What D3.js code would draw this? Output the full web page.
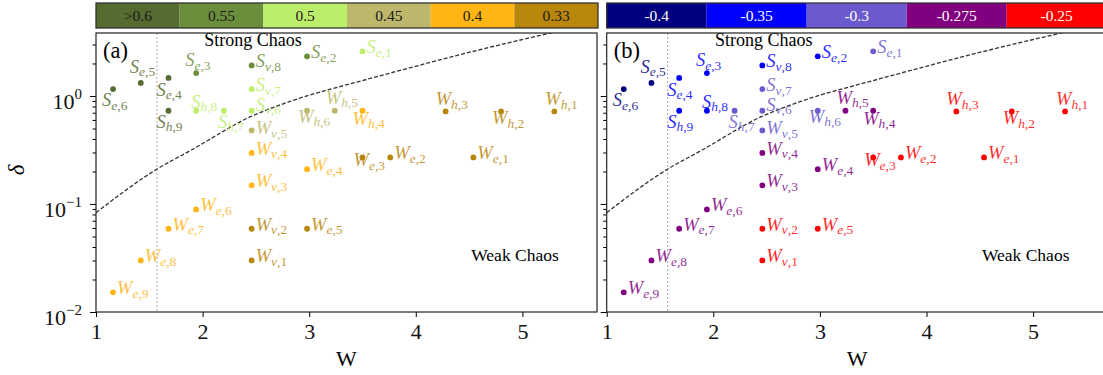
<!DOCTYPE html>
<html>
<head>
<meta charset="utf-8">
<script src="https://cdn.jsdelivr.net/npm/d3@7"></script>
<style>
    body { margin: 0; background: #fff; }
    svg { display: block; font-family: "Liberation Serif", "DejaVu Serif", serif; }
</style>
</head>
<body>
<svg id="chart" width="1103" height="375"></svg>
<script>
// point names, W and delta
const names = ["Se,1", "Se,2", "Se,3", "Se,4", "Se,5", "Se,6",
    "Sv,8", "Sv,7", "Sv,6", "Sh,9", "Sh,8", "Sh,7",
    "Wv,5", "Wv,4", "Wv,3", "Wv,2", "Wv,1",
    "Wh,6", "Wh,5", "Wh,4", "Wh,3", "Wh,2", "Wh,1",
    "We,1", "We,2", "We,3", "We,4", "We,5", "We,6", "We,7", "We,8", "We,9"];
const wValues = [3.5, 2.98, 1.94, 1.68, 1.42, 1.16,
    2.46, 2.46, 2.46, 1.68, 1.94, 2.2,
    2.46, 2.46, 2.46, 2.46, 2.46,
    2.98, 3.24, 3.5, 4.28, 4.8, 5.3,
    4.54, 3.76, 3.5, 2.98, 2.98, 1.94, 1.68, 1.42, 1.16];
const deltaValues = [2.59, 2.33, 1.63, 1.47, 1.32, 1.16,
    1.92, 1.16, 0.73, 0.73, 0.73, 0.73,
    0.48, 0.297, 0.149, 0.059, 0.030,
    0.73, 0.73, 0.73, 0.72, 0.72, 0.72,
    0.27, 0.27, 0.27, 0.21, 0.059, 0.089, 0.059, 0.030, 0.0152];
// colour class of each point in panel (a) and (b)
const groupA = ["0.5", "0.55", "0.55", ">0.6", ">0.6", ">0.6",
    "0.55", "0.5", "0.5", ">0.6", "0.5", "0.5",
    "0.45", "0.4", "0.4", "0.33", "0.33",
    "0.45", "0.45", "0.4", "0.33", "0.33", "0.33",
    "0.33", "0.33", "0.33", "0.4", "0.33", "0.4", "0.4", "0.4", "0.4"];
const groupB = ["-0.3", "-0.35", "-0.35", "-0.35", "-0.4", "-0.4",
    "-0.35", "-0.3", "-0.3", "-0.35", "-0.35", "-0.3",
    "-0.3", "-0.275", "-0.275", "-0.25", "-0.25",
    "-0.3", "-0.275", "-0.275", "-0.25", "-0.25", "-0.25",
    "-0.25", "-0.25", "-0.25", "-0.275", "-0.25", "-0.275", "-0.275", "-0.275", "-0.275"];

const legendA = [">0.6", "0.55", "0.5", "0.45", "0.4", "0.33"];
const coloursA = ["#556b2f", "#6b8e3a", "#bcee6a", "#bdb76b", "#ffb514", "#b8860b"];
const legendB = ["-0.4", "-0.35", "-0.3", "-0.275", "-0.25"];
const coloursB = ["#000080", "#0000ff", "#6a5acd", "#800080", "#ff0000"];

// dashed boundary
const boundaryW = [1, 1.57, 1.88, 2.46, 2.82, 3.5, 3.76, 4.6, 5.3];
const boundaryDelta = [0.083, 0.21, 0.31, 0.65, 0.89, 1.39, 1.63, 2.68, 3.9];
const wCritical = 1.572;

const xTicks = [1, 2, 3, 4, 5];
const yMajor = [0.01, 0.1, 1];
const yExponents = ["\u22122", "\u22121", "0"];

// label offsets (dx, baseline dy); labels not listed sit to the right of the dot
const labelOffset = {
    "Se,6": [-11, 17], "Se,5": [-11, -10], "Se,4": [-12, 18], "Sh,9": [-12, 17],
    "Se,3": [-11, -7], "Sh,8": [-5, -3], "Sh,7": [-6, 17],
    "Wh,6": [-9, 12], "Wh,5": [-9, -7], "Wh,4": [-10, 14],
    "Wh,3": [-10, -6], "Wh,2": [-9, 13], "Wh,1": [-9, -6], "We,3": [-9, 9],
    "Sv,6": [4, 0], "Wv,5": [4, 4]
};

let plotTop = 33, plotBottom = 312, plotWidth = 501;
let svg = d3.select("#chart");

let points = names.map((n, i) => ({
    name: n, w: wValues[i], delta: deltaValues[i], a: groupA[i], b: groupB[i]
}));

let y = d3.scaleLog().domain([0.01, 3.83]).range([plotBottom, plotTop]);

let minor = [];
[-2, -1, 0].forEach(k => {
    for (let m = 2; m <= 9; m++) {
        let v = m * Math.pow(10, k);
        if (v < 3.83) minor.push(v);
    }
});

let panels = [
    {x0: 96, tag: "(a)", key: "a", legend: legendA, colours: coloursA, textColour: "#1a1a1a", yLabels: true},
    {x0: 606.7, tag: "(b)", key: "b", legend: legendB, colours: coloursB, textColour: "#fff", yLabels: false}
];

panels.forEach((p, pi) => {
    let x = d3.scaleLinear().domain([1, 5.7]).range([p.x0, p.x0 + plotWidth]);
    let colour = d3.scaleOrdinal().domain(p.legend).range(p.colours);

    // colour bar
    let band = d3.scaleBand().domain(p.legend).range([p.x0, p.x0 + (pi === 0 ? 502 : 500)]);
    let bar = svg.append("g");
    bar.selectAll("rect")
        .data(p.legend)
        .join("rect")
        .attr("x", d => band(d))
        .attr("y", 3)
        .attr("width", band.bandwidth())
        .attr("height", 25)
        .attr("fill", d => colour(d));
    bar.selectAll("text")
        .data(p.legend)
        .join("text")
        .attr("x", d => band(d) + band.bandwidth() / 2)
        .attr("y", 21)
        .attr("text-anchor", "middle")
        .attr("font-size", 15.5)
        .attr("fill", p.textColour)
        .text(d => d);
    bar.append("rect")
        .attr("x", p.x0)
        .attr("y", 3)
        .attr("width", band.range()[1] - p.x0)
        .attr("height", 25)
        .attr("fill", "none")
        .attr("stroke", "#333")
        .attr("stroke-width", 1.3);

    let g = svg.append("g");
    let clipId = "clip" + pi;
    svg.append("clipPath").attr("id", clipId)
        .append("rect")
        .attr("x", p.x0).attr("y", plotTop)
        .attr("width", plotWidth).attr("height", plotBottom - plotTop);

    // vertical dotted line
    g.append("line")
        .attr("x1", x(wCritical)).attr("x2", x(wCritical))
        .attr("y1", plotTop).attr("y2", plotBottom)
        .attr("stroke", "#aaa")
        .attr("stroke-width", 1)
        .attr("stroke-dasharray", "2,2");

    // boundary curve
    let line = d3.line()
        .x(d => x(d[0]))
        .y(d => y(d[1]))
        .curve(d3.curveMonotoneX);
    g.append("path")
        .datum(boundaryW.map((w, i) => [w, boundaryDelta[i]]))
        .attr("clip-path", "url(#" + clipId + ")")
        .attr("d", line)
        .attr("fill", "none")
        .attr("stroke", "#333")
        .attr("stroke-width", 1.3)
        .attr("stroke-dasharray", "4,2");

    // points
    g.selectAll("circle")
        .data(points)
        .join("circle")
        .attr("cx", d => x(d.w))
        .attr("cy", d => y(d.delta))
        .attr("r", 2.9)
        .attr("fill", d => colour(d[p.key]));

    // point labels
    let labels = g.selectAll("text.pt")
        .data(points)
        .join("text")
        .attr("class", "pt")
        .attr("x", d => x(d.w) + (labelOffset[d.name] ? labelOffset[d.name][0] : 4))
        .attr("y", d => y(d.delta) + (labelOffset[d.name] ? labelOffset[d.name][1] : 2))
        .attr("fill", d => colour(d[p.key]))
        .attr("fill-opacity", 0.85);
    labels.append("tspan")
        .attr("font-size", 18.5)
        .attr("font-style", "italic")
        .text(d => d.name[0]);
    labels.append("tspan")
        .attr("font-size", 13.5)
        .attr("font-style", "italic")
        .attr("dy", 3.5)
        .text(d => d.name[1]);
    labels.append("tspan")
        .attr("font-size", 13.5)
        .text(d => d.name.slice(2));

    // text in the plot
    g.append("text")
        .attr("x", p.x0 + 157)
        .attr("y", 46)
        .attr("text-anchor", "middle")
        .attr("font-size", 18)
        .text("Strong Chaos");
    g.append("text")
        .attr("x", p.x0 + 419)
        .attr("y", 261)
        .attr("text-anchor", "middle")
        .attr("font-size", 17.5)
        .text("Weak Chaos");
    g.append("text")
        .attr("x", p.x0 + 7)
        .attr("y", 58)
        .attr("font-size", 22.5)
        .text(p.tag);

    // x axis
    let xAxis = svg.append("g")
        .attr("transform", "translate(0," + plotBottom + ")")
        .call(d3.axisBottom(x).tickValues(xTicks).tickSize(5).tickSizeOuter(0).tickPadding(6).tickFormat(d3.format("d")));
    xAxis.select(".domain").remove();
    xAxis.selectAll("text").attr("font-size", 22).attr("font-family", "Liberation Serif").attr("fill", "#111");

    // y axis major and minor ticks
    let yAxis = svg.append("g")
        .attr("transform", "translate(" + p.x0 + ",0)")
        .call(d3.axisLeft(y).tickValues(yMajor).tickSize(6).tickSizeOuter(0).tickFormat(""));
    yAxis.select(".domain").remove();
    let yMinor = svg.append("g")
        .attr("transform", "translate(" + p.x0 + ",0)")
        .call(d3.axisLeft(y).tickValues(minor).tickSize(3.5).tickSizeOuter(0).tickFormat(""));
    yMinor.select(".domain").remove();

    if (p.yLabels) {
        let yt = svg.append("g").selectAll("text")
            .data(yMajor)
            .join("text")
            .attr("x", p.x0 - 14)
            .attr("y", d => y(d) + 13)
            .attr("text-anchor", "end")
            .attr("font-size", 22)
            .attr("fill", "#111");
        yt.append("tspan").text("10");
        yt.append("tspan")
            .attr("dy", -10)
            .attr("font-size", 15)
            .text((d, i) => yExponents[i]);

        svg.append("text")
            .attr("transform", "translate(24,170) rotate(-90)")
            .attr("text-anchor", "middle")
            .attr("font-size", 23)
            .attr("font-style", "italic")
            .text("\u03b4");
    }

    svg.append("text")
        .attr("x", p.x0 + 250.5)
        .attr("y", 366)
        .attr("text-anchor", "middle")
        .attr("font-size", 22)
        .text("W");

    // frame
    svg.append("rect")
        .attr("x", p.x0)
        .attr("y", plotTop)
        .attr("width", plotWidth)
        .attr("height", plotBottom - plotTop)
        .attr("fill", "none")
        .attr("stroke", "#222")
        .attr("stroke-width", 1.2);
});
</script>
</body>
</html>
